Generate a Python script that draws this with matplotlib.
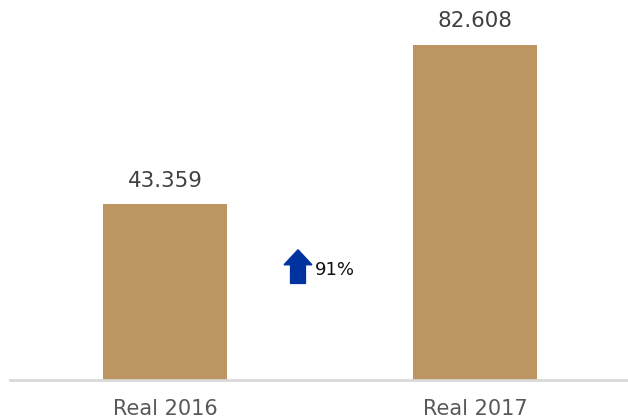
import matplotlib
matplotlib.use("Agg")
import matplotlib.pyplot as plt
from matplotlib.patches import Polygon

categories = ["Real 2016", "Real 2017"]
values = [43.359, 82.608]

bar_color = "#bd9563"
arrow_color = "#0033a0"

plt.rcParams["font.family"] = ["DejaVu Sans"]

fig = plt.figure(figsize=(6.28, 4.2), dpi=100)
ax = fig.add_axes([10 / 628, 40 / 420, 620 / 628, 380 / 420])

x = list(range(len(categories)))
ax.bar(x, values, width=0.4, color=bar_color, zorder=2)

ax.set_xlim(-0.5, 1.5)
ax.set_ylim(0, 93.66)

for xi, v in zip(x, values):
    ax.text(xi, v + 3.3, f"{v:.3f}", ha="center", va="bottom",
            fontsize=15.4, color="#404040")

ax.set_xticks(x)
ax.set_xticklabels(categories, fontsize=15, color="#595959")
ax.tick_params(axis="x", length=0, pad=14)
ax.set_yticks([])

for side in ("top", "right", "left"):
    ax.spines[side].set_visible(False)
ax.spines["bottom"].set_color("#d9d9d9")
ax.spines["bottom"].set_linewidth(2)

# growth indicator between the bars
growth = values[1] / values[0] - 1
cx, cy = 0.429, 28.0
hw, sw = 0.045, 0.024
head_top, head_base, tail = cy + 4.1, cy + 0.4, cy - 4.2
arrow = Polygon([
    (cx - sw, tail), (cx + sw, tail), (cx + sw, head_base),
    (cx + hw, head_base), (cx, head_top), (cx - hw, head_base),
    (cx - sw, head_base)], closed=True, color=arrow_color, zorder=3)
ax.add_patch(arrow)
ax.text(cx + 0.053, cy - 0.9, f"{growth:.0%}", ha="left", va="center",
        fontsize=13, color="#111111")

fig.savefig("out.png", dpi=100)
